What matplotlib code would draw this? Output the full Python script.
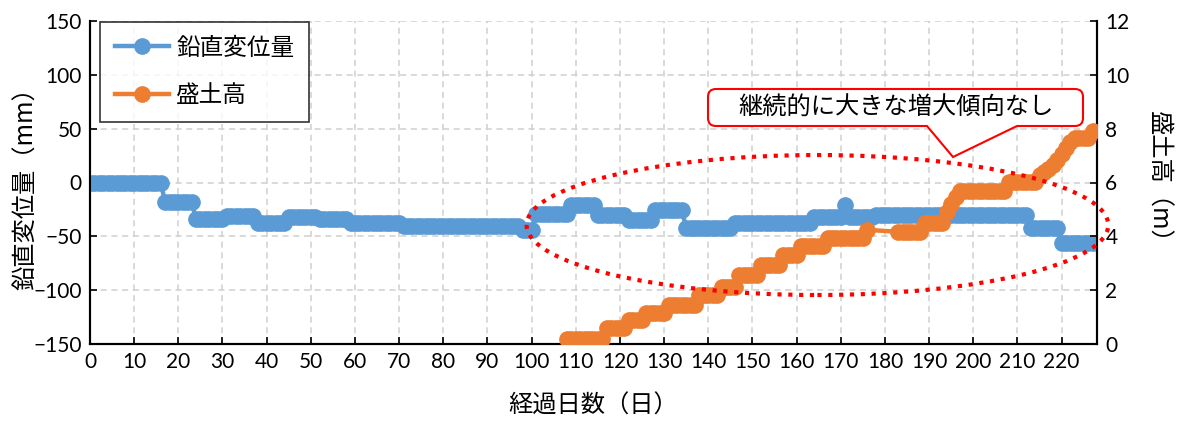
import numpy as np
import matplotlib
matplotlib.use("Agg")
import matplotlib.pyplot as plt
from matplotlib.patches import Ellipse, PathPatch
from matplotlib.path import Path
from matplotlib.transforms import Affine2D

JP = ["Noto Sans CJK JP", "DejaVu Sans"]
NUM = ["Lato", "DejaVu Sans"]

# ---- data -------------------------------------------------------------
# Vertical displacement (mm): value held from each start day until the next
disp_start_day = [0, 17, 24, 31, 38, 45, 52, 59, 71, 98, 101, 109, 115,
                  122, 128, 135, 146, 164, 178, 213, 220]
disp_value = [0, -18, -34, -31, -38, -32, -34, -38, -40, -44, -29, -21, -30,
              -35, -26, -42, -38, -32, -30, -42, -56]
disp_last_day = 227
disp_single_day = {171: -21}

# Embankment height (m): value held from each start day until the next
fill_start_day = [108, 117, 122, 126, 131, 138, 143, 147, 152, 157, 161, 167,
                  176, 183, 189, 194, 195, 196, 197, 208, 215, 216, 217, 218,
                  219, 220, 221, 222, 223, 227]
fill_value = [0.2, 0.58, 0.89, 1.16, 1.45, 1.82, 2.13, 2.56, 2.95, 3.31, 3.64,
              3.95, 4.24, 4.17, 4.5, 4.9, 5.2, 5.45, 5.7, 6.03, 6.28, 6.4, 6.5,
              6.65, 6.85, 7.05, 7.3, 7.5, 7.65, 7.9]
fill_last_day = 227
fill_missing_days = [177, 178, 179, 180, 181, 182]

x_ticks = list(range(0, 221, 10))
left_ticks = [-150, -100, -50, 0, 50, 100, 150]
right_ticks = [0, 2, 4, 6, 8, 10, 12]

label_disp = "鉛直変位量"
label_fill = "盛土高"
xlabel = "経過日数（日）"
ylabel_left = "鉛直変位量（mm）"
ylabel_right = "盛土高（m）"
note = "継続的に大きな増大傾向なし"


def expand(starts, values, last_day):
    days = np.arange(starts[0], last_day + 1)
    idx = np.searchsorted(starts, days, side="right") - 1
    return days, np.asarray(values, dtype=float)[idx]


d_days, d_vals = expand(disp_start_day, disp_value, disp_last_day)
for day, v in disp_single_day.items():
    d_vals[d_days == day] = v

f_days, f_vals = expand(fill_start_day, fill_value, fill_last_day)
keep = ~np.isin(f_days, fill_missing_days)
f_days, f_vals = f_days[keep], f_vals[keep]

# ---- figure -----------------------------------------------------------
W, H = 1183, 424
fig = plt.figure(figsize=(W / 100, H / 100), dpi=100)
ax = fig.add_axes([90 / W, 1 - 344 / H, (1097 - 90) / W, (344 - 21) / H])
ax2 = ax.twinx()

BLUE = "#5B9BD5"
ORANGE = "#ED7D31"

ax.plot(d_days, d_vals, color=BLUE, lw=3.2, marker="o", ms=11,
        mec=BLUE, mfc=BLUE, label=label_disp, zorder=3)
ax2.plot(f_days, f_vals, color=ORANGE, lw=3.2, marker="o", ms=11,
         mec=ORANGE, mfc=ORANGE, label=label_fill, zorder=3)

ax.set_xlim(0, 228)
ax.set_ylim(-150, 150)
ax2.set_ylim(0, 12)
ax.set_xticks(x_ticks)
ax.set_yticks(left_ticks)
ax2.set_yticks(right_ticks)

ax.grid(True, color="#D0D0D0", ls=(0, (4, 3)), lw=1.1)
ax.set_axisbelow(True)

for a in (ax, ax2):
    a.tick_params(direction="in", length=5, width=1.2, labelsize=15,
                  pad=6, colors="black")
    for lab in a.get_xticklabels() + a.get_yticklabels():
        lab.set_family(NUM)
    a.spines["top"].set_visible(False)
    for s in ("left", "right", "bottom"):
        a.spines[s].set_linewidth(1.5)

ax.set_xlabel(xlabel, family=JP, fontsize=17.5, labelpad=15)
ax.set_ylabel(ylabel_left, family=JP, fontsize=17.5, labelpad=-4)
ax2.set_ylabel(ylabel_right, family=JP, fontsize=17.5, rotation=-90,
               labelpad=30)

# Legend combining both axes
h1, l1 = ax.get_legend_handles_labels()
h2, l2 = ax2.get_legend_handles_labels()
leg = ax2.legend(h1 + h2, l1 + l2, loc="upper left",
                 bbox_to_anchor=(10 / 1007, 1 - 1 / 323), borderaxespad=0,
                 prop={"family": JP, "size": 17},
                 frameon=True, fancybox=False, edgecolor="black",
                 handlelength=2.3, handletextpad=0.3, borderpad=0.62,
                 labelspacing=1.05, markerscale=1.0)
leg.get_frame().set_linewidth(1.2)
leg.set_zorder(10)

# Dotted ellipse around the region of interest
ell = Ellipse((164.7, -39.5), width=131.7, height=130, fill=False,
              edgecolor="#FF0000", lw=3, ls=(0, (1, 1.6)),
              transform=ax.transData, clip_on=False, zorder=6)
ax2.add_patch(ell)

# Callout box with a pointer (figure pixel coordinates, y downwards)
px = Affine2D().scale(1, -1).translate(0, H).scale(1 / W, 1 / H) + fig.transFigure
L, R, T, B, r = 708, 1083, 89, 126, 8
verts = [
    (L + r, T), (R - r, T), (R, T), (R, T + r), (R, B - r), (R, B), (R - r, B),
    (1017, B), (953, 157), (927, B),
    (L + r, B), (L, B), (L, B - r), (L, T + r), (L, T), (L + r, T), (L + r, T),
]
codes = [Path.MOVETO, Path.LINETO, Path.CURVE3, Path.CURVE3, Path.LINETO,
         Path.CURVE3, Path.CURVE3, Path.LINETO, Path.LINETO, Path.LINETO,
         Path.LINETO, Path.CURVE3, Path.CURVE3, Path.LINETO, Path.CURVE3,
         Path.CURVE3, Path.CLOSEPOLY]
callout = PathPatch(Path(verts, codes), facecolor="white", edgecolor="#FF0000",
                    lw=1.5, transform=px, zorder=7)
fig.add_artist(callout)
fig.text((L + R) / 2 / W, 1 - 107.5 / H, note, family=JP, fontsize=17.5,
         ha="center", va="center", zorder=8)

fig.savefig("out.png", dpi=100)
